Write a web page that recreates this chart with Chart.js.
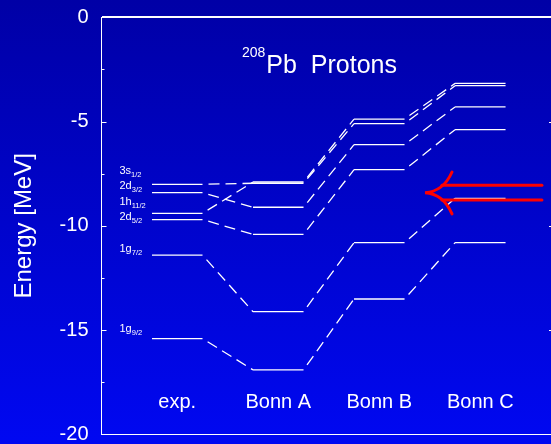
<!DOCTYPE html>
<html><head><meta charset="utf-8">
<style>
html,body{margin:0;padding:0;width:551px;height:444px;overflow:hidden;
background:linear-gradient(to bottom,#0000a6 0%,#0004cc 50%,#0008f2 100%);}
canvas{display:block}
</style>
<script src="https://cdn.jsdelivr.net/npm/chart.js@4.4.1/dist/chart.umd.min.js"></script>
</head><body>
<canvas id="c" width="551" height="444"></canvas>
<script>
// ---- data ----
const categories = ['exp.', 'Bonn A', 'Bonn B', 'Bonn C'];
const levelNames = ['3s', '2d', '1h', '2d', '1g', '1g'];
const levelSubs  = ['1/2', '3/2', '11/2', '5/2', '7/2', '9/2'];
const level3s12  = [-8.01, -7.96, -5.10, -3.28];
const level2d32  = [-8.41, -9.11, -6.11, -4.30];
const level1h112 = [-9.40, -7.90, -4.88, -3.17];
const level2d52  = [-9.70, -10.41, -7.31, -5.39];
const level1g72  = [-11.41, -14.12, -10.81, -8.68];
const level1g92  = [-15.41, -16.91, -13.51, -10.81];
const levels = [level3s12, level2d32, level1h112, level2d52, level1g72, level1g92];
const labelEnergies = [-7.36, -8.09, -8.84, -9.56, -11.13, -14.96];
const yTicks = [0, -5, -10, -15, -20];
const minorTicks = [-2.5, -7.5, -12.5, -17.5];
const arrowLevels = [-8.06, -8.76];
const arrowTipEnergy = -8.41;
const titleMain = 'Pb  Protons';
const titleSup = '208';
const yTitle = 'Energy [MeV]';

const FONT = "'Liberation Sans', Arial, sans-serif";
const HALF = 0.25;

function levelPoints(vals) {
  const pts = [];
  vals.forEach((v, i) => {
    pts.push({x: i + 1 - HALF, y: v});
    pts.push({x: i + 1 + HALF, y: v});
  });
  return pts;
}

const datasets = levels.map((vals, k) => ({
  label: levelNames[k] + levelSubs[k],
  data: levelPoints(vals),
  borderColor: '#ffffff',
  borderWidth: 1.3,
  pointRadius: 0,
  tension: 0,
  fill: false,
  segment: {
    borderDash: ctx => (ctx.p0DataIndex % 2 === 1 ? [11, 6] : undefined),
    borderDashOffset: ctx => (ctx.p0DataIndex % 2 === 1 ? 11 : 0)
  }
}));

const decor = {
  id: 'decor',
  afterDatasetsDraw(chart) {
    const {ctx, chartArea: a, scales: {x, y}} = chart;
    ctx.save();
    // inward ticks
    ctx.strokeStyle = '#ffffff';
    ctx.lineWidth = 1;
    yTicks.forEach(v => {
      const py = Math.round(y.getPixelForValue(v)) + 0.5;
      ctx.beginPath(); ctx.moveTo(a.left, py); ctx.lineTo(a.left + 5, py); ctx.stroke();
      ctx.beginPath(); ctx.moveTo(a.right - 2, py); ctx.lineTo(a.right, py); ctx.stroke();
    });
    minorTicks.forEach(v => {
      const py = Math.round(y.getPixelForValue(v)) + 0.5;
      ctx.beginPath(); ctx.moveTo(a.left, py); ctx.lineTo(a.left + 3, py); ctx.stroke();
    });
    // category labels
    ctx.fillStyle = '#ffffff';
    ctx.font = '20px ' + FONT;
    ctx.textAlign = 'center';
    ctx.textBaseline = 'middle';
    categories.forEach((c, i) => {
      ctx.fillText(c, x.getPixelForValue(i + 1), a.bottom - 32);
    });
    // level labels
    ctx.textAlign = 'left';
    levelNames.forEach((n, k) => {
      const py = y.getPixelForValue(labelEnergies[k]);
      const px = a.left + 18;
      ctx.font = '11px ' + FONT;
      ctx.fillText(n, px, py);
      const w = ctx.measureText(n).width;
      ctx.font = '7.5px ' + FONT;
      ctx.fillText(levelSubs[k], px + w, py + 4);
    });
    // title
    ctx.font = '14px ' + FONT;
    ctx.textBaseline = 'alphabetic';
    const tx = a.left + 140.5;
    ctx.fillText(titleSup, tx, a.top + 39.5);
    const sw = ctx.measureText(titleSup).width;
    ctx.font = '25px ' + FONT;
    ctx.fillText(titleMain, tx + sw + 1, a.top + 56);
    // red arrow
    ctx.strokeStyle = '#ff0000';
    ctx.lineWidth = 3;
    ctx.lineCap = 'round';
    const tipX = x.getPixelForValue(3.453), tipY = y.getPixelForValue(arrowTipEnergy);
    arrowLevels.forEach(e => {
      const py = y.getPixelForValue(e);
      ctx.beginPath();
      ctx.moveTo(x.getPixelForValue(3.62), py);
      ctx.lineTo(x.getPixelForValue(4.61), py);
      ctx.stroke();
    });
    ctx.beginPath();
    ctx.moveTo(x.getPixelForValue(3.72), y.getPixelForValue(-7.42));
    ctx.quadraticCurveTo(x.getPixelForValue(3.634), y.getPixelForValue(-8.36), tipX, tipY);
    ctx.quadraticCurveTo(x.getPixelForValue(3.634), y.getPixelForValue(-8.46),
                         x.getPixelForValue(3.72), y.getPixelForValue(-9.43));
    ctx.stroke();
    ctx.restore();
  }
};

new Chart(document.getElementById('c'), {
  type: 'line',
  data: {datasets},
  options: {
    responsive: false,
    animation: false,
    devicePixelRatio: 1,
    layout: {padding: {top: 17.3, bottom: 9.7, left: 0, right: 0}},
    plugins: {legend: {display: false}, tooltip: {enabled: false}},
    scales: {
      x: {type: 'linear', min: 0.25, max: 4.70, display: false},
      y: {
        type: 'linear', min: -20, max: 0,
        afterFit: s => { s.width = 101.5; s.paddingTop = 0; s.paddingBottom = 0; s.paddingLeft = 0; s.paddingRight = 0; },
        afterBuildTicks: s => { s.ticks = yTicks.map(v => ({value: v})); },
        border: {display: true, color: '#ffffff', width: 1},
        grid: {
          drawTicks: false,
          color: c => (c.tick && (c.tick.value === 0 || c.tick.value === -20)) ? '#ffffff' : 'rgba(0,0,0,0)',
          lineWidth: c => (c.tick && c.tick.value === 0) ? 2 : 1
        },
        ticks: {color: '#ffffff', padding: 13, font: {family: FONT, size: 20, lineHeight: 0.9}},
        title: {display: true, text: yTitle, color: '#ffffff', padding: {top: 10, bottom: 0},
                font: {family: FONT, size: 24}}
      }
    }
  },
  plugins: [decor]
});
</script>
</body></html>
